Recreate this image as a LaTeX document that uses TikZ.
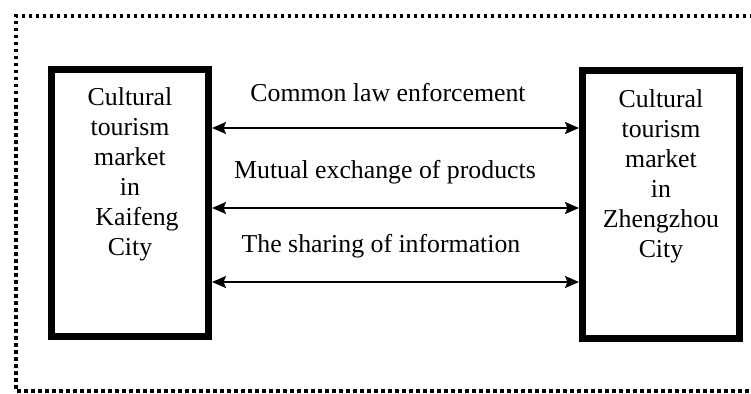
\documentclass[tikz,border=0pt]{standalone}
\usepackage{fontspec}
\setmainfont{Liberation Serif}
\usetikzlibrary{arrows.meta}
\begin{document}
\begin{tikzpicture}[x=1pt,y=-1pt,
  market/.style={draw,line width=7pt,minimum width=157pt,minimum height=267pt,inner sep=0pt},
  boxtext/.style={align=center,font=\fontsize{25.8}{30}\selectfont,inner sep=0pt,anchor=base},
  lbl/.style={font=\fontsize{25.8}{30}\selectfont,inner sep=0pt,anchor=base},
  link/.style={line width=1.8pt,{Stealth[length=14pt,width=12pt,inset=2.5pt]}-{Stealth[length=14pt,width=12pt,inset=2.5pt]}},
  frame/.style={line width=3.5pt,dash pattern=on 3.5pt off 3.5pt}]
\useasboundingbox (0,0) rectangle (751,393);
\draw[frame] (760,16) -- (16,16) -- (16,391) -- (760,391);
\node[market] (kbox) at (130,203) {};
\node[market] (zbox) at (661,204.5) {};
\node[boxtext] (ktext) at (130,255) {Cultural\\tourism\\market\\in\\\hspace*{14pt}Kaifeng\\City};
\node[boxtext] (ztext) at (661,257) {Cultural\\tourism\\market\\in\\Zhengzhou\\City};
\coordinate (a1) at (390,128);
\coordinate (a2) at (390,208);
\coordinate (a3) at (390,282);
\draw[link] (kbox.east |- a1) -- (zbox.west |- a1);
\draw[link] (kbox.east |- a2) -- (zbox.west |- a2);
\draw[link] (kbox.east |- a3) -- (zbox.west |- a3);
\node[lbl] (l1) at (388,102) {Common law enforcement};
\node[lbl] (l2) at (385,178) {Mutual exchange of products};
\node[lbl] (l3) at (381,252) {The sharing of information};
\end{tikzpicture}
\end{document}
